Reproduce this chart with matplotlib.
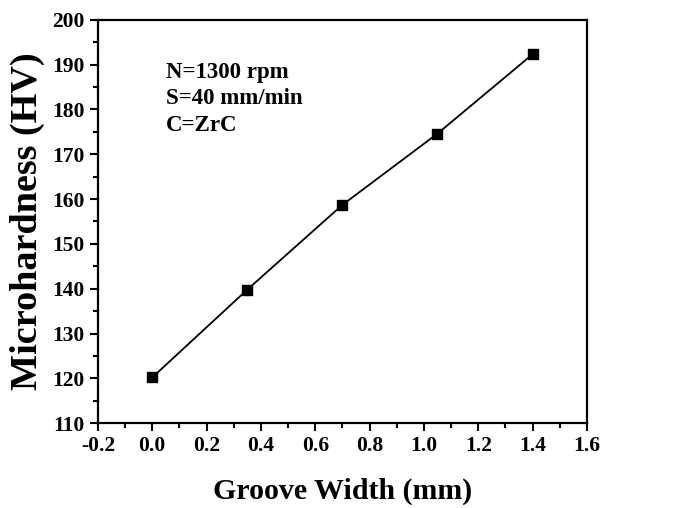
import matplotlib
matplotlib.use("Agg")
from matplotlib import pyplot as plt
from matplotlib.ticker import MultipleLocator

groove_width = [0.0, 0.35, 0.7, 1.05, 1.4]
microhardness = [120.2, 139.8, 158.7, 174.6, 192.3]
notes = ["N=1300 rpm", "S=40 mm/min", "C=ZrC"]

plt.rcParams["font.family"] = ["Liberation Serif", "DejaVu Serif"]
plt.rcParams["font.weight"] = "bold"
plt.rcParams["axes.unicode_minus"] = False

fig = plt.figure(figsize=(6.8, 5.08), dpi=100)
ax = fig.add_axes([0.144, 0.167, 0.719, 0.794])

ax.plot(groove_width, microhardness, "k-", lw=1.3, marker="s", ms=7)

ax.set_xlim(-0.2, 1.6)
ax.set_ylim(110, 200)
ax.xaxis.set_major_locator(MultipleLocator(0.2))
ax.xaxis.set_minor_locator(MultipleLocator(0.1))
ax.yaxis.set_major_locator(MultipleLocator(10))
ax.yaxis.set_minor_locator(MultipleLocator(5))
ax.tick_params(which="both", direction="out", width=1.5, labelsize=15.5)
ax.tick_params(which="major", length=6)
ax.tick_params(which="minor", length=3.5)
for s in ax.spines.values():
    s.set_linewidth(1.6)
for lbl in ax.get_xticklabels() + ax.get_yticklabels():
    lbl.set_fontweight("bold")

ax.set_xlabel("Groove Width (mm)", fontsize=21.5, fontweight="bold", labelpad=15)
ax.set_ylabel("Microhardness (HV)", fontsize=27.5, fontweight="bold", labelpad=5)

ax.text(0.139, 0.895, "\n".join(notes), transform=ax.transAxes, fontsize=16.5,
        fontweight="bold", va="top", ha="left", linespacing=1.33)

fig.savefig("out.png", dpi=100)
